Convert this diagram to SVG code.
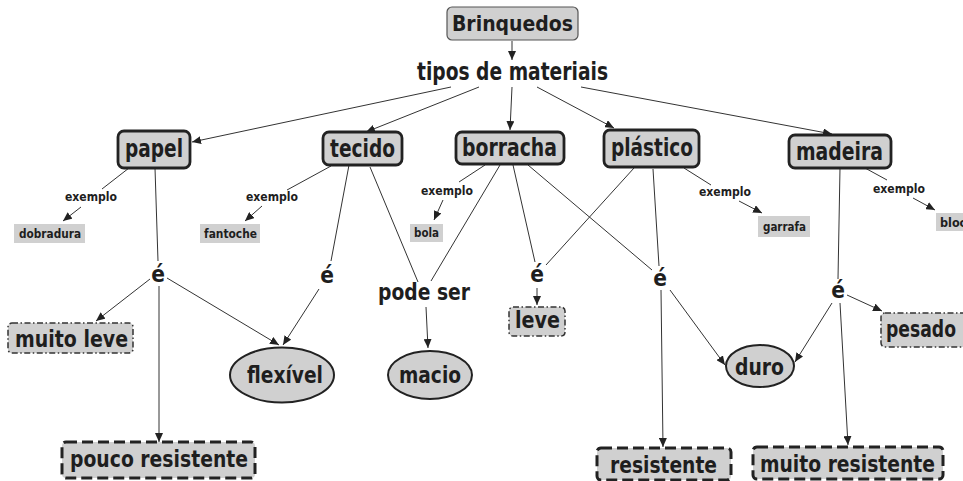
<svg xmlns="http://www.w3.org/2000/svg" width="963" height="481" viewBox="0 0 963 481">
<defs>
<marker id="ah" markerWidth="9" markerHeight="8" refX="9" refY="4" orient="auto" markerUnits="userSpaceOnUse">
<path d="M0,0 L9,4 L0,8 Z" fill="#222"/>
</marker>
<style>
text{font-family:"DejaVu Sans Condensed","DejaVu Sans",Verdana,sans-serif;font-stretch:condensed;font-weight:bold;fill:#1e1e1e;text-anchor:middle}
.big{font-size:25px}
.lab{font-size:22.5px}
.sm{font-size:12.5px}
.xs{font-size:12px}
.root{fill:#d0d0d0;stroke:#555;stroke-width:1.2}
.c{fill:#d0d0d0;stroke:#222;stroke-width:2.8}
.ex{fill:#d0d0d0;stroke:none}
.dd{fill:#d0d0d0;stroke:#333;stroke-width:1.5;stroke-dasharray:6,2.5,1.5,2.5}
.dash{fill:#d0d0d0;stroke:#222;stroke-width:3;stroke-dasharray:11,5}
.el{fill:#d0d0d0;stroke:#222;stroke-width:2}
.ln{stroke:#333;stroke-width:1;fill:none}
.ar{stroke:#333;stroke-width:1;fill:none;marker-end:url(#ah)}
</style>
</defs>
<rect width="963" height="481" fill="#fff"/>
<g id="connectors">
<line class="ar" x1="512" y1="41" x2="512" y2="60"/>
<line class="ar" x1="451" y1="87" x2="192" y2="142"/>
<line class="ar" x1="479" y1="87" x2="366" y2="132"/>
<line class="ar" x1="512" y1="87" x2="510" y2="130"/>
<line class="ar" x1="537" y1="87" x2="614" y2="128"/>
<line class="ar" x1="581" y1="87" x2="832" y2="134"/>
<line class="ln" x1="129" y1="168" x2="102" y2="189"/>
<line class="ar" x1="81" y1="207" x2="63" y2="221"/>
<line class="ln" x1="331" y1="166" x2="287" y2="190"/>
<line class="ar" x1="262" y1="206" x2="245" y2="221"/>
<line class="ln" x1="485" y1="165" x2="459" y2="182"/>
<line class="ar" x1="443" y1="200" x2="434" y2="220"/>
<line class="ln" x1="684" y1="168" x2="711" y2="185"/>
<line class="ar" x1="739" y1="201" x2="762" y2="213"/>
<line class="ln" x1="865" y1="168" x2="887" y2="180"/>
<line class="ar" x1="913" y1="198" x2="935" y2="210"/>
<line class="ln" x1="155" y1="168" x2="158" y2="261"/>
<line class="ar" x1="150" y1="279" x2="96" y2="321"/>
<line class="ar" x1="167" y1="278" x2="279" y2="345"/>
<line class="ar" x1="159" y1="286" x2="159" y2="442"/>
<line class="ln" x1="349" y1="165" x2="331" y2="261"/>
<line class="ar" x1="319" y1="289" x2="283" y2="345"/>
<line class="ln" x1="370" y1="167" x2="418" y2="282"/>
<line class="ln" x1="500" y1="165" x2="431" y2="281"/>
<line class="ar" x1="426" y1="307" x2="428" y2="348"/>
<line class="ln" x1="513" y1="165" x2="535" y2="262"/>
<line class="ln" x1="634" y1="168" x2="546" y2="265"/>
<line class="ar" x1="537" y1="288" x2="537" y2="305"/>
<line class="ln" x1="528" y1="165" x2="652" y2="270"/>
<line class="ln" x1="653" y1="169" x2="659" y2="266"/>
<line class="ar" x1="661" y1="290" x2="663" y2="447"/>
<line class="ar" x1="670" y1="290" x2="725" y2="365"/>
<line class="ln" x1="840" y1="168" x2="838" y2="279"/>
<line class="ar" x1="847" y1="295" x2="882" y2="311"/>
<line class="ar" x1="832" y1="303" x2="795" y2="362"/>
<line class="ar" x1="840" y1="303" x2="848" y2="445"/>
</g>
<g id="brinquedos"><rect class="root" x="447" y="7" width="131" height="33" rx="5"/><text x="512.5" y="31" style="font-size:22px" textLength="121" lengthAdjust="spacingAndGlyphs">Brinquedos</text></g>
<g id="tipos"><text class="lab" x="512.5" y="80" style="font-size:24px" textLength="191" lengthAdjust="spacingAndGlyphs">tipos de materiais</text></g>
<g id="papel"><rect class="c" x="118" y="131" width="72" height="37" rx="6"/><text class="big" x="154" y="157" textLength="58" lengthAdjust="spacingAndGlyphs">papel</text></g>
<g id="tecido"><rect class="c" x="323" y="132" width="79" height="33" rx="6"/><text class="big" x="362.5" y="157" textLength="65" lengthAdjust="spacingAndGlyphs">tecido</text></g>
<g id="borracha"><rect class="c" x="456" y="132" width="108" height="32" rx="6"/><text class="big" x="509.5" y="156" textLength="95" lengthAdjust="spacingAndGlyphs">borracha</text></g>
<g id="plastico"><rect class="c" x="604" y="130" width="95" height="37" rx="6"/><text class="big" x="652" y="156" textLength="82" lengthAdjust="spacingAndGlyphs">plástico</text></g>
<g id="madeira"><rect class="c" x="789" y="135" width="102" height="33" rx="6"/><text class="big" x="839.5" y="160" textLength="87" lengthAdjust="spacingAndGlyphs">madeira</text></g>
<g id="ex-papel"><text class="sm" x="91" y="201" textLength="52" lengthAdjust="spacingAndGlyphs">exemplo</text></g>
<g id="ex-tecido"><text class="sm" x="272" y="201" textLength="52" lengthAdjust="spacingAndGlyphs">exemplo</text></g>
<g id="ex-borracha"><text class="sm" x="447" y="195" textLength="52" lengthAdjust="spacingAndGlyphs">exemplo</text></g>
<g id="ex-plastico"><text class="sm" x="725" y="196" textLength="52" lengthAdjust="spacingAndGlyphs">exemplo</text></g>
<g id="ex-madeira"><text class="sm" x="899" y="193" textLength="52" lengthAdjust="spacingAndGlyphs">exemplo</text></g>
<g id="dobradura"><rect class="ex" x="14" y="224" width="71" height="19"/><text class="xs" x="50" y="238" textLength="62" lengthAdjust="spacingAndGlyphs">dobradura</text></g>
<g id="fantoche"><rect class="ex" x="200" y="224" width="60" height="19"/><text class="xs" x="230.5" y="238" textLength="53" lengthAdjust="spacingAndGlyphs">fantoche</text></g>
<g id="bola"><rect class="ex" x="410" y="224" width="33" height="18"/><text class="xs" x="426.5" y="237" textLength="25" lengthAdjust="spacingAndGlyphs">bola</text></g>
<g id="garrafa"><rect class="ex" x="758" y="216" width="52" height="21"/><text class="xs" x="784.5" y="231" textLength="43" lengthAdjust="spacingAndGlyphs">garrafa</text></g>
<g id="bloco"><rect class="ex" x="936" y="213" width="40" height="18"/><text class="xs" x="940" y="227" style="text-anchor:start" textLength="34" lengthAdjust="spacingAndGlyphs">bloco</text></g>
<g id="e-papel"><text class="lab" x="158" y="282">é</text></g>
<g id="e-tecido"><text class="lab" x="327" y="283">é</text></g>
<g id="podeser"><text class="lab" x="424" y="300" textLength="92" lengthAdjust="spacingAndGlyphs">pode ser</text></g>
<g id="e-leve"><text class="lab" x="537" y="282">é</text></g>
<g id="e-plastico"><text class="lab" x="660" y="286">é</text></g>
<g id="e-madeira"><text class="lab" x="838" y="298">é</text></g>
<g id="muitoleve"><rect class="dd" x="8" y="323" width="125" height="30" rx="4"/><text class="lab" x="71.5" y="347" textLength="113" lengthAdjust="spacingAndGlyphs">muito leve</text></g>
<g id="poucoresistente"><rect class="dash" x="62" y="442" width="193" height="36" rx="4"/><text class="lab" x="159" y="467" textLength="178" lengthAdjust="spacingAndGlyphs">pouco resistente</text></g>
<g id="flexivel"><ellipse class="el" cx="282" cy="375" rx="52" ry="27.5"/><text class="lab" x="285" y="383" textLength="76" lengthAdjust="spacingAndGlyphs">flexível</text></g>
<g id="macio"><ellipse class="el" cx="430" cy="375" rx="42" ry="24"/><text class="lab" x="430" y="383" textLength="62" lengthAdjust="spacingAndGlyphs">macio</text></g>
<g id="leve"><rect class="dd" x="509" y="307" width="56" height="29" rx="4"/><text class="lab" x="537.5" y="328" textLength="45" lengthAdjust="spacingAndGlyphs">leve</text></g>
<g id="resistente"><rect class="dash" x="597" y="448" width="134" height="32" rx="4"/><text class="lab" x="663.5" y="473" textLength="107" lengthAdjust="spacingAndGlyphs">resistente</text></g>
<g id="duro"><ellipse class="el" cx="760" cy="366" rx="34" ry="21"/><text class="lab" x="759.5" y="375" textLength="49" lengthAdjust="spacingAndGlyphs">duro</text></g>
<g id="pesado"><rect class="dd" x="881" y="313" width="100" height="34" rx="4"/><text class="lab" x="886" y="337" style="text-anchor:start" textLength="70" lengthAdjust="spacingAndGlyphs">pesado</text></g>
<g id="muitoresistente"><rect class="dash" x="753" y="447" width="190" height="32" rx="4"/><text class="lab" x="847.5" y="472" textLength="175" lengthAdjust="spacingAndGlyphs">muito resistente</text></g>
</svg>
